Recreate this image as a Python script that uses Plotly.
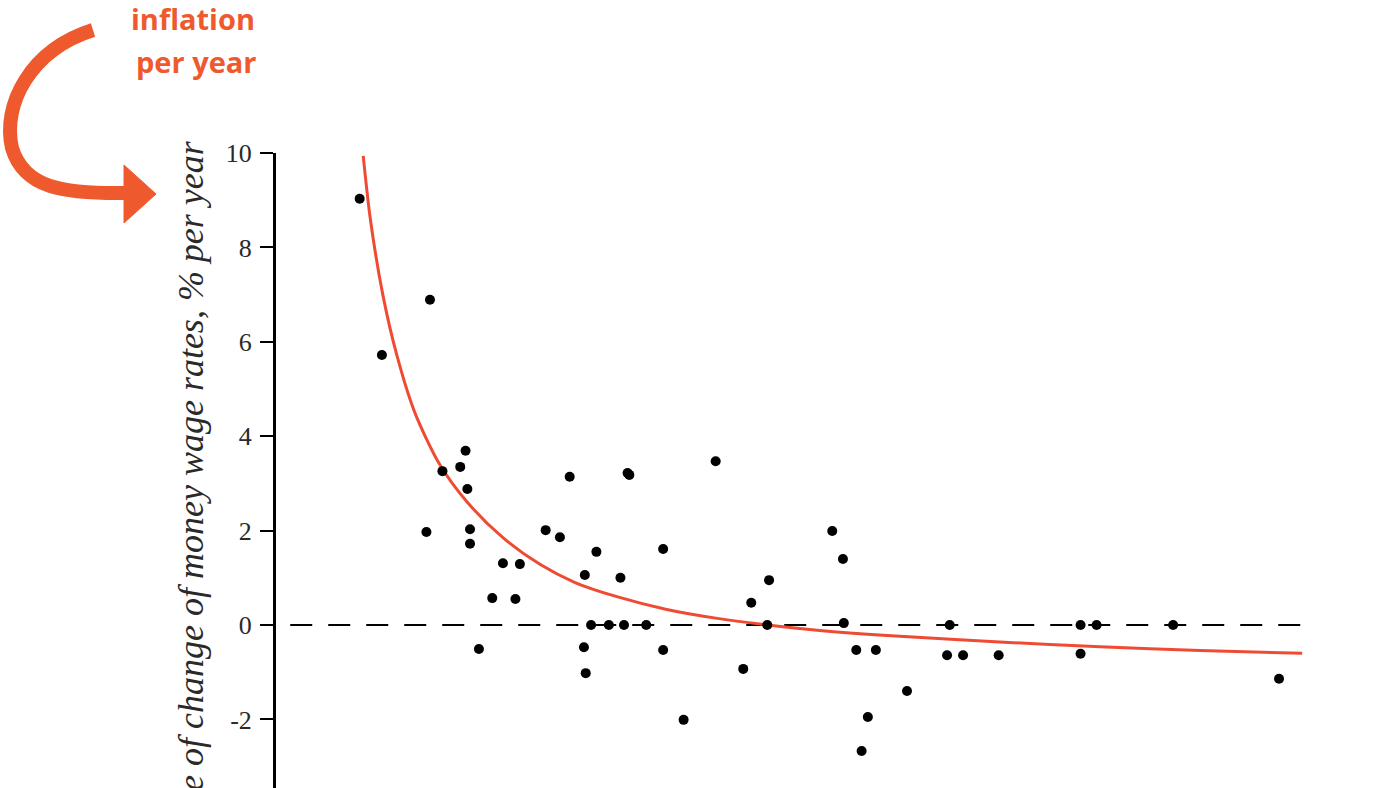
import plotly.graph_objects as go

# unemployment (%) and rate of change of money wage rates (% per year)
unemp = [0.94, 1.19, 1.73, 1.87, 1.69, 2.07, 2.13, 2.15, 2.18, 2.18,
         2.28, 2.43, 2.55, 2.69, 2.74, 3.03, 3.19, 3.30, 3.47, 3.46,
         3.48, 3.54, 3.60, 3.74, 3.87, 3.91, 3.95, 3.97, 4.16, 4.35,
         4.35, 4.58, 4.94, 5.25, 5.34, 5.54, 5.52, 6.25, 6.37, 6.38,
         6.52, 6.74, 6.65, 6.58, 7.09, 7.54, 7.57, 7.72, 8.12, 9.04,
         9.04, 9.22, 10.08, 11.27]
wages = [9.03, 5.72, 6.89, 3.26, 1.97, 3.35, 3.69, 2.88, 2.03, 1.72,
         -0.51, 0.57, 1.31, 0.55, 1.29, 2.01, 1.86, 3.14, 1.06, -0.47,
         -1.02, 0.0, 1.55, 0.0, 1.00, 0.0, 3.22, 3.18, 0.0, 1.61,
         -0.53, -2.01, 3.47, -0.93, 0.47, 0.95, 0.0, 1.99, 1.40, 0.04,
         -0.53, -0.53, -1.95, -2.67, -1.40, -0.64, 0.0, -0.64, -0.64, 0.0,
         -0.61, 0.0, 0.0, -1.14]

# fitted curve
curve_x = [0.98, 1.06, 1.20, 1.36, 1.56, 1.84, 2.15, 2.55, 2.97, 3.36,
           3.83, 4.39, 4.96, 5.52, 6.08, 7.01, 8.13, 9.26, 10.38, 11.53]
curve_y = [9.94, 8.6, 7.0, 5.7, 4.5, 3.4, 2.6, 1.85, 1.28, 0.90,
           0.60, 0.33, 0.14, 0.0, -0.11, -0.24, -0.36, -0.46, -0.54, -0.60]

ytick_vals = [-2, 0, 2, 4, 6, 8, 10]
ytick_text = ["-2", "0", "2", "4", "6", "8", "10"]

W, H = 1400, 788
L, R, T, B = 276, 80, 153, 0
ORANGE = "#EE5A2E"


def px(xp):
    return (xp - L) / (W - L - R)


def py(yp):
    return (H - B - yp) / (H - T - B)


fig = go.Figure()

fig.add_trace(go.Scatter(x=curve_x, y=curve_y, mode="lines",
                         line=dict(color="#EF4B33", width=3, shape="spline", smoothing=0.8),
                         hoverinfo="skip"))
fig.add_trace(go.Scatter(x=unemp, y=wages, mode="markers",
                         marker=dict(color="black", size=10)))

# zero line
fig.add_shape(type="line", xref="x", yref="y", x0=0.16, x1=11.56, y0=0, y1=0,
              line=dict(color="black", width=2, dash="22px,16px"), layer="below")

# curved arrow pointing at the axis title
path = "M {} {} C {} {} {} {} {} {} C {} {} {} {} {} {}".format(
    px(93), py(30), px(30), py(50), px(2), py(105), px(12), py(148),
    px(24), py(188), px(62), py(194), px(128), py(193))
fig.add_shape(type="path", xref="paper", yref="paper", path=path,
              line=dict(color=ORANGE, width=14))
head = "M {} {} L {} {} L {} {} Z".format(
    px(124), py(165), px(156), py(194), px(124), py(223))
fig.add_shape(type="path", xref="paper", yref="paper", path=head,
              fillcolor=ORANGE, line=dict(color=ORANGE, width=1))

fig.add_annotation(xref="paper", yref="paper", x=px(193), y=py(19),
                   text="inflation", showarrow=False, borderpad=0,
                   font=dict(family="Open Sans", size=29, color=ORANGE, weight="bold"),
                   yanchor="middle", xanchor="center")
fig.add_annotation(xref="paper", yref="paper", x=px(196), y=py(62),
                   text="per year", showarrow=False, borderpad=0,
                   font=dict(family="Open Sans", size=29, color=ORANGE, weight="bold"),
                   yanchor="middle", xanchor="center")

# axis title: runs off the bottom edge as in the source image
fig.add_annotation(xref="paper", yref="paper", x=px(191), y=py(138),
                   text="<i>Rate of change of money wage rates, % per year</i>",
                   textangle=-90, showarrow=False, xanchor="center", yanchor="top",
                   font=dict(family="Liberation Serif", size=36, color="#2a2a2a"))

fig.update_layout(
    width=W, height=H,
    margin=dict(l=L, r=R, t=T, b=B),
    plot_bgcolor="white", paper_bgcolor="white",
    showlegend=False,
)
fig.update_xaxes(visible=False, range=[0, (W - L - R) / 89.0])
fig.update_yaxes(range=[10 - (H - T - B) / 47.2, 10], showgrid=False, zeroline=False,
                 showline=True, linecolor="black", linewidth=3,
                 ticks="outside", ticklen=13, tickwidth=2, tickcolor="black",
                 tickvals=ytick_vals, ticktext=ytick_text, ticklabelstandoff=3,
                 tickfont=dict(family="Liberation Serif", size=26, color="#2a2a2a"))

fig.write_html("out.html", config={"displayModeBar": False},
               post_script="document.body.style.margin='0';")
